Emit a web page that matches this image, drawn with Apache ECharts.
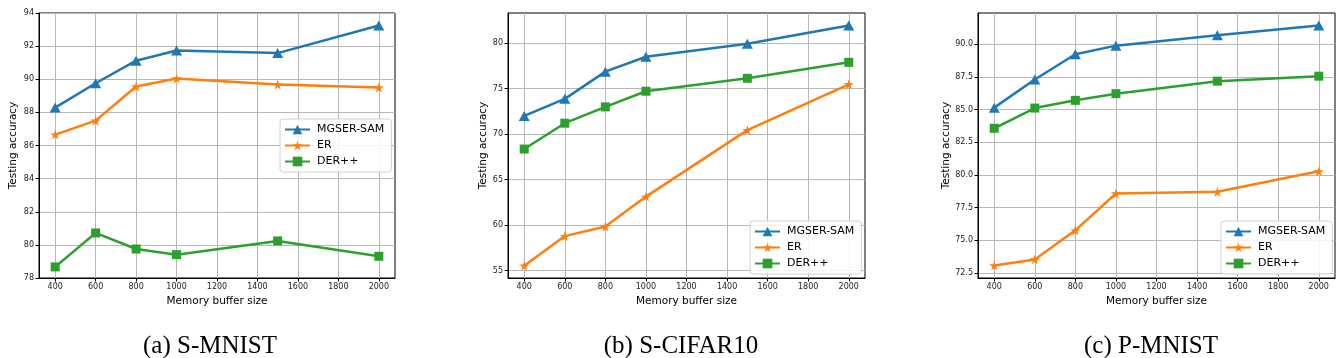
<!DOCTYPE html>
<html>
<head>
<meta charset="utf-8">
<script src="https://cdn.jsdelivr.net/npm/echarts@6/dist/echarts.min.js"></script>
<style>
html,body{margin:0;padding:0;background:#fff;}
#c{width:1344px;height:358px;}
</style>
</head>
<body>
<div id="c"></div>
<script>
// ---- data ----
const buffers = [400, 600, 800, 1000, 1500, 2000];
const xTicks = [400, 600, 800, 1000, 1200, 1400, 1600, 1800, 2000];
const seriesNames = ['MGSER-SAM', 'ER', 'DER++'];

const sMnistMgser = [88.29, 89.76, 91.12, 91.74, 91.58, 93.25];
const sMnistER    = [86.66, 87.50, 89.56, 90.05, 89.68, 89.50];
const sMnistDER   = [78.67, 80.72, 79.75, 79.41, 80.24, 79.31];
const sMnistTicks = [78, 80, 82, 84, 86, 88, 90, 92, 94];

const sCifarMgser = [72.00, 73.87, 76.86, 78.50, 79.93, 81.93];
const sCifarER    = [55.55, 58.80, 59.85, 63.14, 70.44, 75.47];
const sCifarDER   = [68.36, 71.20, 72.99, 74.71, 76.13, 77.88];
const sCifarTicks = [55, 60, 65, 70, 75, 80];

const pMnistMgser = [85.15, 87.31, 89.24, 89.90, 90.69, 91.45];
const pMnistER    = [73.06, 73.52, 75.75, 78.57, 78.70, 80.27];
const pMnistDER   = [83.57, 85.12, 85.71, 86.22, 87.18, 87.56];
const pMnistTicks = [72.5, 75, 77.5, 80, 82.5, 85, 87.5, 90];

const captions = ['(a) S-MNIST', '(b) S-CIFAR10', '(c) P-MNIST'];

// ---- chart ----
const colors = ['#1f77b4', '#ff7f0e', '#2ca02c'];
const starPath = 'path://M0,-1 L0.2245,-0.309 L0.951,-0.309 L0.363,0.118 L0.588,0.809 L0,0.382 L-0.588,0.809 L-0.363,0.118 L-0.951,-0.309 L-0.2245,-0.309 Z';
const symbols = ['triangle', starPath, 'rect'];
const symbolSizes = [[11, 10], 10, 9];

const panels = [
  {vals: [sMnistMgser, sMnistER, sMnistDER], ticks: sMnistTicks, min: 78, max: 94, dec: 0,
   grid: {left: 39, top: 13, width: 356, height: 265}, nameGap: 20,
   legend: {left: 280, top: 119}, cap: 205},
  {vals: [sCifarMgser, sCifarER, sCifarDER], ticks: sCifarTicks, min: 54.2, max: 83.3, dec: 0,
   grid: {left: 508, top: 13, width: 357, height: 265}, nameGap: 19,
   legend: {left: 750, top: 221}, cap: 676},
  {vals: [pMnistMgser, pMnistER, pMnistDER], ticks: pMnistTicks, min: 72.1, max: 92.4, dec: 1,
   grid: {left: 978, top: 13, width: 357, height: 265}, nameGap: 25,
   legend: {left: 1221, top: 221}, cap: 1146}
];

const FONT = 'DejaVu Sans';
const option = {
  animation: false,
  backgroundColor: '#fff',
  textStyle: {fontFamily: FONT},
  title: panels.map((p, i) => ({
    text: captions[i], left: p.cap, top: 329, textAlign: 'center',
    textStyle: {fontFamily: 'Liberation Serif', fontSize: 25, fontWeight: 'normal', color: '#000'}
  })),
  grid: panels.map(p => Object.assign({show: true, borderColor: '#000', borderWidth: 1, backgroundColor: 'transparent'}, p.grid)),
  legend: panels.map(p => ({
    orient: 'vertical', left: p.legend.left, top: p.legend.top,
    data: seriesNames, itemWidth: 25, itemHeight: 12, itemGap: 5,
    padding: [5, 7, 5, 4], borderColor: '#d0d0d0', borderWidth: 1, borderRadius: 3,
    backgroundColor: 'rgba(255,255,255,0.85)',
    textStyle: {fontFamily: FONT, fontSize: 11, color: '#000', padding: [0, 0, 0, 2]},
    selectedMode: false
  })),
  xAxis: panels.map((p, i) => ({
    type: 'value', gridIndex: i, min: 320, max: 2080,
    name: 'Memory buffer size', nameLocation: 'middle', nameGap: 16,
    nameTextStyle: {fontFamily: FONT, fontSize: 10.5, color: '#000'},
    axisLine: {show: true, onZero: false, lineStyle: {color: '#000', width: 1}},
    axisTick: {show: true, length: 3.5, customValues: xTicks, lineStyle: {color: '#000'}},
    axisLabel: {customValues: xTicks, fontSize: 8, color: '#222', margin: 5, fontFamily: FONT,
      formatter: v => String(Math.round(v))},
    splitLine: {show: true, lineStyle: {color: '#b8b8b8', width: 1}}
  })),
  yAxis: panels.map((p, i) => ({
    type: 'value', gridIndex: i, min: p.min, max: p.max,
    name: 'Testing accuracy', nameLocation: 'middle', nameGap: p.nameGap,
    nameTextStyle: {fontFamily: FONT, fontSize: 10.5, color: '#000'},
    axisLine: {show: true, onZero: false, lineStyle: {color: '#000', width: 1}},
    axisTick: {show: true, length: 3.5, customValues: p.ticks, lineStyle: {color: '#000'}},
    axisLabel: {customValues: p.ticks, fontSize: 8, color: '#222', margin: 5, fontFamily: FONT,
      formatter: v => Number(v).toFixed(p.dec)},
    splitLine: {show: true, lineStyle: {color: '#b8b8b8', width: 1}}
  })),
  series: []
};

panels.forEach((p, i) => {
  seriesNames.forEach((name, k) => {
    option.series.push({
      name: name, type: 'line', xAxisIndex: i, yAxisIndex: i,
      data: buffers.map((b, j) => [b, p.vals[k][j]]),
      symbol: symbols[k], symbolSize: symbolSizes[k],
      color: colors[k],
      itemStyle: {color: colors[k]},
      lineStyle: {color: colors[k], width: 2.5},
      z: 3 + (2 - k)
    });
  });
});

const chart = echarts.init(document.getElementById('c'), null, {renderer: 'canvas'});
chart.setOption(option);
</script>
</body>
</html>
